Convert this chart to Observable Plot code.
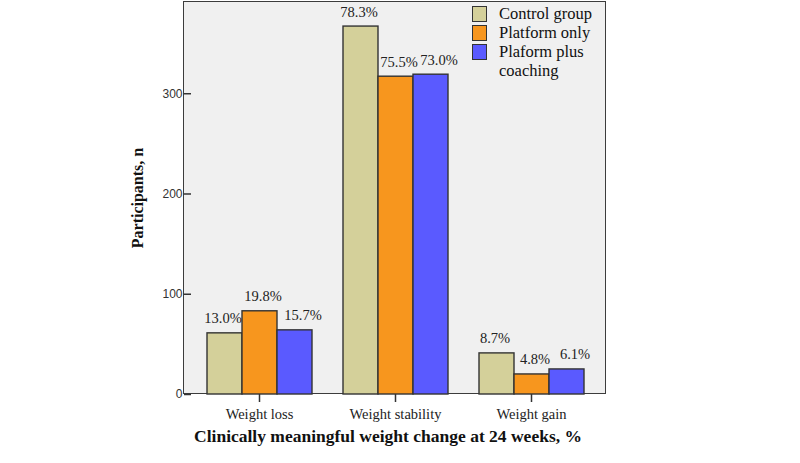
<!DOCTYPE html>
<html>
<head>
<meta charset="utf-8">
<script src="https://cdn.jsdelivr.net/npm/d3@7"></script>
<script src="https://cdn.jsdelivr.net/npm/@observablehq/plot@0.6"></script>
<style>
  body { margin: 0; background: #fff; }
  #wrap { position: relative; width: 800px; height: 463px; overflow: hidden; }
  #panel { position: absolute; left: 183px; top: 1px; width: 423px; height: 393px; box-sizing: border-box;
           background: #f0f0f0; border: 1.8px solid #3c3c3c; z-index: 0; }
  #chart { position: absolute; left: 0; top: 0; z-index: 1; }
  .title { position: absolute; font-family: "Liberation Serif", serif; font-weight: bold; color: #111; white-space: nowrap; z-index: 2; }
  #xtitle { left: 0; width: 800px; text-align: center; top: 426px; font-size: 17.5px; }
  #ytitle { left: 138px; top: 198px; font-size: 16px; transform: translate(-50%, -50%) rotate(-90deg); }
  #legend { position: absolute; left: 472px; top: 5px; z-index: 2; font-family: "Liberation Serif", serif; font-size: 16.5px; color: #111; }
  .item { position: relative; height: 19px; }
  .sw { position: absolute; left: 0; top: 1px; width: 15px; height: 16px; box-sizing: border-box; border: 1.5px solid #333; }
  .lab { position: absolute; left: 27px; top: -1px; line-height: 19px; white-space: nowrap; }
</style>
</head>
<body>
<div id="wrap">
  <div id="panel"></div>
  <div id="chart"></div>
  <div id="legend"></div>
  <div class="title" id="ytitle">Participants, n</div>
  <div class="title" id="xtitle"><span style="position:relative;left:-12px">Clinically meaningful weight change at 24 weeks, %</span></div>
</div>
<script>
const groups = ["Weight loss", "Weight stability", "Weight gain"];
const series = ["Control group", "Platform only", "Plaform plus coaching"];
const legendLines = [["Control group"], ["Platform only"], ["Plaform plus", "coaching"]];
const colors = ["#d4d09a", "#f7961e", "#5a5aff"];
// counts per series, in group order
const controlN = [61, 367, 41];
const platformN = [83, 317, 20];
const coachingN = [64, 319, 25];
// percentage labels per series, in group order
const controlPct = ["13.0%", "78.3%", "8.7%"];
const platformPct = ["19.8%", "75.5%", "4.8%"];
const coachingPct = ["15.7%", "73.0%", "6.1%"];
const yTicks = [0, 100, 200, 300];

const counts = [controlN, platformN, coachingN];
const pcts = [controlPct, platformPct, coachingPct];
const data = [];
series.forEach((s, i) => groups.forEach((g, j) => data.push({group: g, series: s, n: counts[i][j], pct: pcts[i][j]})));

const labelShift = [-2, 3, 8];
const labelMarks = series.map((s, i) => Plot.text(data.filter(d => d.series === s), {
  fx: "group", x: "series", y: "n", text: "pct", dx: labelShift[i], dy: -10, lineAnchor: "bottom",
  fontFamily: "Liberation Serif", fontSize: 14.5, fill: "#222"
}));

const chart = Plot.plot({
  width: 800,
  height: 463,
  marginLeft: 183,
  marginRight: 194,
  marginTop: 1,
  marginBottom: 69,
  style: {background: "transparent"},
  fx: {domain: groups, paddingInner: 0, paddingOuter: 0.05, label: null},
  x: {domain: series, paddingInner: 0, paddingOuter: 0.4, axis: null},
  y: {domain: [0, 392], label: null},
  color: {domain: series, range: colors},
  marks: [
    Plot.barY(data, {fx: "group", x: "series", y: "n", fill: "series", stroke: "#333", strokeWidth: 1.4}),
    ...labelMarks,
    Plot.axisY({ticks: yTicks, tickSize: 7, tickPadding: 2, strokeWidth: 1.5, stroke: "#333",
      fontFamily: "Liberation Sans", fontSize: 12, fill: "#333", label: null}),
    Plot.axisFx({anchor: "bottom", tickSize: 8, tickPadding: 6, strokeWidth: 1.5, stroke: "#333",
      fontFamily: "Liberation Serif", fontSize: 14.5, fill: "#222", label: null})
  ]
});
document.getElementById("chart").appendChild(chart);

const legend = document.getElementById("legend");
series.forEach((s, i) => {
  legendLines[i].forEach((line, k) => {
    const item = document.createElement("div");
    item.className = "item";
    if (k === 0) {
      const sw = document.createElement("div");
      sw.className = "sw";
      sw.style.background = colors[i];
      item.appendChild(sw);
    }
    const lab = document.createElement("div");
    lab.className = "lab";
    lab.textContent = line;
    item.appendChild(lab);
    legend.appendChild(item);
  });
});
</script>
</body>
</html>
